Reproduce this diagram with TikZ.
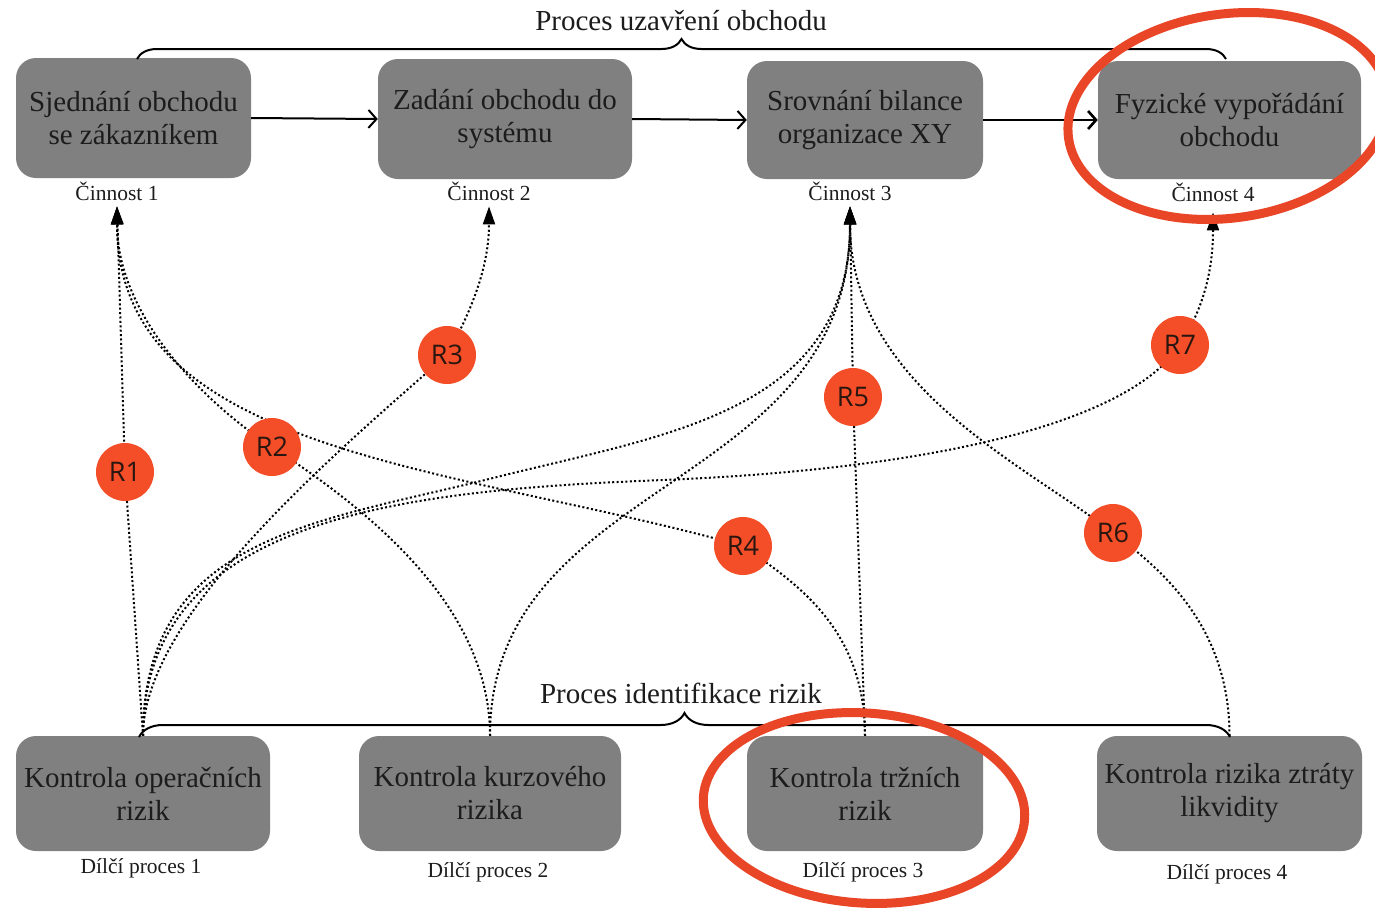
\documentclass[tikz,border=0pt]{standalone}
\usepackage{fontspec}
\setmainfont{Liberation Serif}
\newfontfamily\riskfont{Open Sans}
\usetikzlibrary{arrows.meta,decorations.pathreplacing,backgrounds}

\definecolor{boxgray}{HTML}{808080}
\definecolor{boxtext}{HTML}{1C1C1C}
\definecolor{riskfill}{HTML}{F34E27}
\definecolor{risktext}{HTML}{2A1610}
\definecolor{ringred}{HTML}{E94628}

\begin{document}
\begin{tikzpicture}[x=1pt, y=-1pt,
  stepbox/.style={rectangle, rounded corners=20pt, fill=boxgray, text=boxtext,
    align=center, inner sep=0pt, font=\fontsize{29}{33}\selectfont},
  capt/.style={anchor=base, inner xsep=0pt, inner ysep=6pt, text=boxtext,
    font=\fontsize{21.5}{24}\selectfont},
  heading/.style={anchor=base, inner sep=0pt, text=boxtext,
    font=\fontsize{29}{33}\selectfont},
  risk/.style={circle, fill=riskfill, minimum size=58pt, inner sep=0pt,
    text=risktext, font=\riskfont\fontsize{27}{30}\selectfont},
  flow/.style={draw=black, line width=2pt,
    -{Straight Barb[length=8pt,width=18pt]}},
  link/.style={draw=black, line width=2pt, dash pattern=on 2pt off 2.4pt,
    -{Triangle[length=18pt,width=12pt]}},
  ring/.style={draw=ringred, line width=9pt},
  groupbrace/.style={draw=black, line width=2pt, decorate,
    decoration={brace, amplitude=#1}},
]
\useasboundingbox (0,0) rectangle (1375,908);

% activities of the deal-closing process
\node[stepbox, minimum width=235pt, minimum height=120pt] (c1) at (133.5,118) {Sjednání obchodu\\se zákazníkem};
\node[stepbox, minimum width=254pt, minimum height=120pt] (c2) at (505,119) {Zadání obchodu do\\systému};
\node[stepbox, minimum width=236pt, minimum height=118pt] (c3) at (865,120) {Srovnání bilance\\organizace XY};
\node[stepbox, minimum width=263pt, minimum height=118pt] (c4) at (1229.5,120) {Fyzické vypořádání\\obchodu};

\node[capt] (c1lab) at (117,200) {Činnost 1};
\node[capt] (c2lab) at (489,200) {Činnost 2};
\node[capt] (c3lab) at (850,200) {Činnost 3};
\node[capt, inner ysep=11pt] (c4lab) at (1213,201) {Činnost 4};

% sub-processes of the risk identification
\node[stepbox, minimum width=254pt, minimum height=115pt] (p1) at (143,793.5) {Kontrola operačních\\rizik};
\node[stepbox, minimum width=262pt, minimum height=115pt] (p2) at (490,793.5) {Kontrola kurzového\\rizika};
\node[stepbox, minimum width=236pt, minimum height=115pt] (p3) at (865,793.5) {Kontrola tržních\\rizik};
\node[stepbox, minimum width=265pt, minimum height=115pt] (p4) at (1229.5,793.5) {Kontrola rizika ztráty\\likvidity};

\node[capt] (p1lab) at (141,873) {Dílčí proces 1};
\node[capt] (p2lab) at (488,877) {Dílčí proces 2};
\node[capt] (p3lab) at (863,877) {Dílčí proces 3};
\node[capt] (p4lab) at (1227,879) {Dílčí proces 4};

% group headings with braces
\node[heading] (toptitle) at (681,30) {Proces uzavření obchodu};
\node[heading] (bottitle) at (681,703) {Proces identifikace rizik};
\draw[groupbrace=20pt] (137,59) -- (1226,59);
\draw[groupbrace=24pt] (139,737) -- (1230,737);

% sequence of activities
\draw[flow] (c1.east) -- (c2.west);
\draw[flow] (c2.east) -- (c3.west);
\draw[flow, line width=2.6pt] (c3.east) -- (c4.west);

% risks
\node[risk] (r1) at (125,472) {R1};
\node[risk] (r2) at (272,447) {R2};
\node[risk] (r3) at (447,355) {R3};
\node[risk] (r4) at (743,546) {R4};
\node[risk] (r5) at (853,397) {R5};
\node[risk] (r6) at (1113,533) {R6};
\node[risk] (r7) at (1180,345) {R7};

\coordinate (via7) at (663,480);
\coordinate (via8) at (493,478);

% risk links, kept behind the nodes
\begin{pgfonlayer}{background}
\fill[white] (0,0) rectangle (1375,908);
\draw[link] (p1.north) -- (r1.center) -- (c1lab.south);
\draw[link] (p2.north) .. controls +(0,-132) and +(92,60) .. (r2.center)
  .. controls +(-67,-44) and +(0,110) .. (c1lab.south);
\draw[link] (p1.north) .. controls +(0,-120) and +(-113,99) .. (r3.center)
  .. controls +(25,-45) and +(0,60) .. (c2lab.south);
\draw[link] (p3.north) .. controls +(0,-110) and +(49,35) .. (r4.center)
  .. controls +(-288,-81) and +(0,250) .. (c1lab.south);
\draw[link] (p3.north) -- (r5.center) -- (c3lab.south);
\draw[link] (p4.north) .. controls +(0,-110) and +(48,36) .. (r6.center)
  .. controls +(-86,-68) and +(0,180) .. (c3lab.south);
\draw[link] (p1.north) .. controls +(0,-222) and +(-250,10) .. (via7)
  .. controls +(250,-10) and +(-55,83) .. (r7.center)
  .. controls +(27,-42) and +(0,50) .. (c4lab.south);
\draw[link] (p1.north) .. controls +(0,-200) and +(-174,44) .. (via8)
  .. controls +(174,-44) and +(0,206) .. (c3lab.south);
\draw[link] (p2.north) .. controls +(0,-260) and +(0,287) .. (c3lab.south);
\end{pgfonlayer}

% highlight rings
\draw[ring, rotate around={8:(1228,116)}] (1228,116) ellipse [x radius=161, y radius=102];
\draw[ring, rotate around={-4:(864,808)}] (864,808) ellipse [x radius=161, y radius=95];
\end{tikzpicture}
\end{document}
